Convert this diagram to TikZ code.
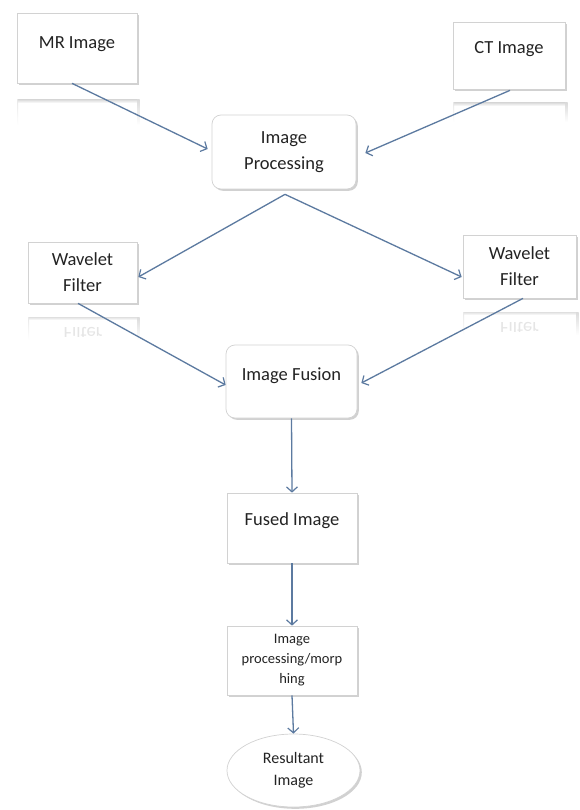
\documentclass[tikz,border=0pt]{standalone}
\usepackage{fontspec}
\setmainfont{Carlito}
\usetikzlibrary{arrows.meta,shadows,shapes.geometric,calc}
\definecolor{arr}{RGB}{92,122,160}
\definecolor{txt}{RGB}{35,35,35}
\begin{document}
\begin{tikzpicture}[x=1pt,y=-1pt,
  box/.style={draw=gray!35, line width=0.7pt, fill=white, inner sep=0pt, text=txt,
    font=\fontsize{18.5}{26}\selectfont, align=center,
    drop shadow={shadow xshift=1.8pt, shadow yshift=-1.8pt, fill=black!45, opacity=0.4}},
  rbox/.style={box, rounded corners=9pt},
  link/.style={draw=arr, line width=1.3pt, -{Straight Barb[length=5pt,width=11pt,line width=1.2pt]}},
  refltxt/.style={text=gray!20, yscale=-1, transform shape, font=\fontsize{18.5}{26}\selectfont}
]
\useasboundingbox (0,0) rectangle (580,810);
\fill[white] (0,0) rectangle (580,810);

% faint reflections
\shade[top color=gray!25, bottom color=white] (17,100) rectangle (139,103);
\shade[top color=gray!18, bottom color=white] (17,100) rectangle (18,125);
\shade[top color=gray!28, bottom color=white] (137,100) rectangle (139.5,125);

\shade[top color=gray!25, bottom color=white] (453,103) rectangle (567,106);
\shade[top color=gray!18, bottom color=white] (453,103) rectangle (454,122);
\shade[top color=gray!28, bottom color=white] (565,103) rectangle (567.5,122);

\shade[top color=gray!25, bottom color=white] (28,317) rectangle (139,320);
\shade[top color=gray!18, bottom color=white] (28,317) rectangle (29,340);
\shade[top color=gray!28, bottom color=white] (137,317) rectangle (139.5,340);
\begin{scope}
  \clip (28,317) rectangle (137,336);
  \node[refltxt] (wlr) at (83,334) {Filter};
\end{scope}

\shade[top color=gray!25, bottom color=white] (463,312) rectangle (578,315);
\shade[top color=gray!18, bottom color=white] (463,312) rectangle (464,335);
\shade[top color=gray!28, bottom color=white] (576,312) rectangle (578.5,335);
\begin{scope}
  \clip (463,312) rectangle (576,331);
  \node[refltxt] (wrr) at (519.5,329) {Filter};
\end{scope}

% boxes
\node[box, minimum width=120pt, minimum height=70pt, text height=12pt, text depth=11pt] (mr) at (77,48) {MR Image};
\node[box, minimum width=112pt, minimum height=67pt, text height=12pt, text depth=16pt] (ct) at (509,55.5) {CT Image};
\node[rbox, minimum width=144pt, minimum height=74pt] (ip) at (284,152) {Image\\Processing};
\node[box, minimum width=109pt, minimum height=61pt] (wl) at (82.5,272.5) {Wavelet\\Filter};
\node[box, minimum width=113pt, minimum height=63pt] (wr) at (519.5,266.5) {Wavelet\\Filter};
\node[rbox, minimum width=131pt, minimum height=73pt, text height=12pt, text depth=14pt] (fu) at (291.5,381.5) {Image Fusion};
\node[box, minimum width=130pt, minimum height=70pt, text height=12pt, text depth=17pt] (fd) at (292,528) {Fused Image};
\node[box, minimum width=130pt, minimum height=69pt, font=\fontsize{14.5}{20}\selectfont] (mo) at (292,660.5) {Image\\processing/morp\\hing};
\node[box, ellipse, minimum width=133pt, minimum height=73pt, font=\fontsize{16}{22}\selectfont] (re) at (293.5,770.5) {Resultant\\Image};

% connectors
\coordinate (apex) at ($(ip.south)+(1,5)$);
\draw[link] ($(mr.south)+(-5,0)$) -- ($(ip.west)+(-4,-3)$);
\draw[link] ($(ct.south)+(1,1)$) -- ($(ip.east)+(9,1)$);
\draw[link] (apex) -- ($(wl.east)+(1,4.5)$);
\draw[link] (apex) -- ($(wr.west)+(-1,10.5)$);
\draw[link] ($(wl.south)+(-4.5,0)$) -- ($(fu.west)+(0,3.5)$);
\draw[link] ($(wr.south)+(3.5,0)$) -- ($(fu.east)+(4,1.5)$);
\draw[link] (fu.south) -- (fd.north);
\draw[link] (fd.south) -- (mo.north);
\draw[link] (mo.south) -- (re.north);
\end{tikzpicture}
\end{document}
